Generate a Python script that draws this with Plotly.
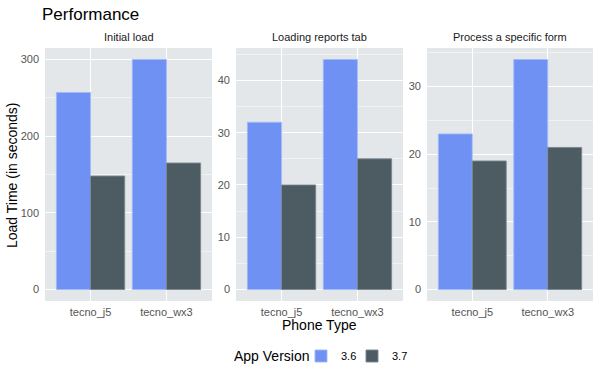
import plotly.graph_objects as go

phones = ["tecno_j5", "tecno_wx3"]
panels = ["Initial load", "Loading reports tab", "Process a specific form"]
v36 = [[257, 300], [32, 44], [23, 34]]
v37 = [[148, 165], [20, 25], [19, 21]]
versions = ["3.6", "3.7"]
colors = {"3.6": "#6F91F3", "3.7": "#4D5B63"}
lines = {"3.6": "rgba(160,185,250,0.9)", "3.7": "rgba(120,135,145,0.9)"}
legend_ids = {"3.6": "legend", "3.7": "legend2"}
yticks = [[0, 100, 200, 300], [0, 10, 20, 30, 40], [0, 10, 20, 30]]
ymax = [300, 44, 34]
minor_d = [50, 5, 5]

fig = go.Figure()
xdom = [(45 / 600, 212 / 600), (236 / 600, 403 / 600), (427 / 600, 593 / 600)]
ydom = (1 - 301 / 379, 1 - 48 / 379)
font = "Liberation Sans, Arial, sans-serif"

for i in range(3):
    xa = "x" if i == 0 else f"x{i+1}"
    ya = "y" if i == 0 else f"y{i+1}"
    for ver, vals in zip(versions, [v36[i], v37[i]]):
        fig.add_trace(go.Bar(
            x=phones, y=vals, name=ver, xaxis=xa, yaxis=ya,
            marker=dict(color=colors[ver], line=dict(color=lines[ver], width=1)),
            showlegend=(i == 0), legendgroup=ver, offsetgroup=ver,
            legend=legend_ids[ver],
        ))
    sfx = "" if i == 0 else str(i + 1)
    fig.layout["xaxis" + sfx] = dict(
        domain=list(xdom[i]), anchor=ya, range=[-0.6, 1.6], type="category",
        showgrid=True, gridcolor="white", gridwidth=1, zeroline=False,
        ticks="", ticklabelstandoff=3, automargin=False,
        tickfont=dict(size=11, color="#555555", family=font), showline=False,
    )
    ext = ymax[i] * 0.05
    fig.layout["yaxis" + sfx] = dict(
        domain=list(ydom), anchor=xa, range=[-ext, ymax[i] + ext],
        tickvals=yticks[i], showgrid=True, gridcolor="white", gridwidth=1,
        minor=dict(dtick=minor_d[i], tick0=0, showgrid=True, gridcolor="#F0F2F3", gridwidth=0.5),
        zeroline=False, ticks="", ticklabelstandoff=5, automargin=False,
        tickfont=dict(size=11, color="#555555", family=font), showline=False,
        layer="below traces",
    )
    fig.add_annotation(text=panels[i], xref="paper", yref="paper",
                       x=(xdom[i][0] + xdom[i][1]) / 2, y=1 - 37 / 379,
                       xanchor="center", yanchor="middle",
                       showarrow=False, font=dict(size=11, color="#1A1A1A", family=font))

fig.add_annotation(text="Load Time (in seconds)", xref="paper", yref="paper",
                   x=12 / 600, y=1 - 175 / 379, textangle=-90, showarrow=False,
                   xanchor="center", yanchor="middle",
                   font=dict(size=14, color="black", family=font))
fig.add_annotation(text="Phone Type", xref="paper", yref="paper",
                   x=319 / 600, y=1 - 325 / 379, showarrow=False,
                   xanchor="center", yanchor="middle",
                   font=dict(size=14, color="black", family=font))
fig.add_annotation(text="App Version", xref="paper", yref="paper",
                   x=312 / 600, y=1 - 356 / 379, showarrow=False,
                   xanchor="right", yanchor="middle",
                   font=dict(size=14, color="black", family=font))

leg_common = dict(orientation="h", xanchor="left", y=1 - 356 / 379, yanchor="middle",
                  font=dict(size=11, color="black", family=font), itemwidth=30,
                  bgcolor="rgba(0,0,0,0)")
fig.update_layout(
    width=600, height=379, barmode="group", bargap=0.1, bargroupgap=0,
    plot_bgcolor="#E4E7E9", paper_bgcolor="white",
    margin=dict(l=0, r=0, t=0, b=0, autoexpand=False),
    title=dict(text="Performance", x=42 / 600, y=1 - 14 / 379, xanchor="left", yanchor="middle",
               font=dict(size=17, color="black", family=font)),
    legend=dict(x=301 / 600, **leg_common),
    legend2=dict(x=352 / 600, **leg_common),
    font=dict(family=font),
)

fig.write_html("out.html", config={"displayModeBar": False},
               post_script="document.body.style.margin='0';")
